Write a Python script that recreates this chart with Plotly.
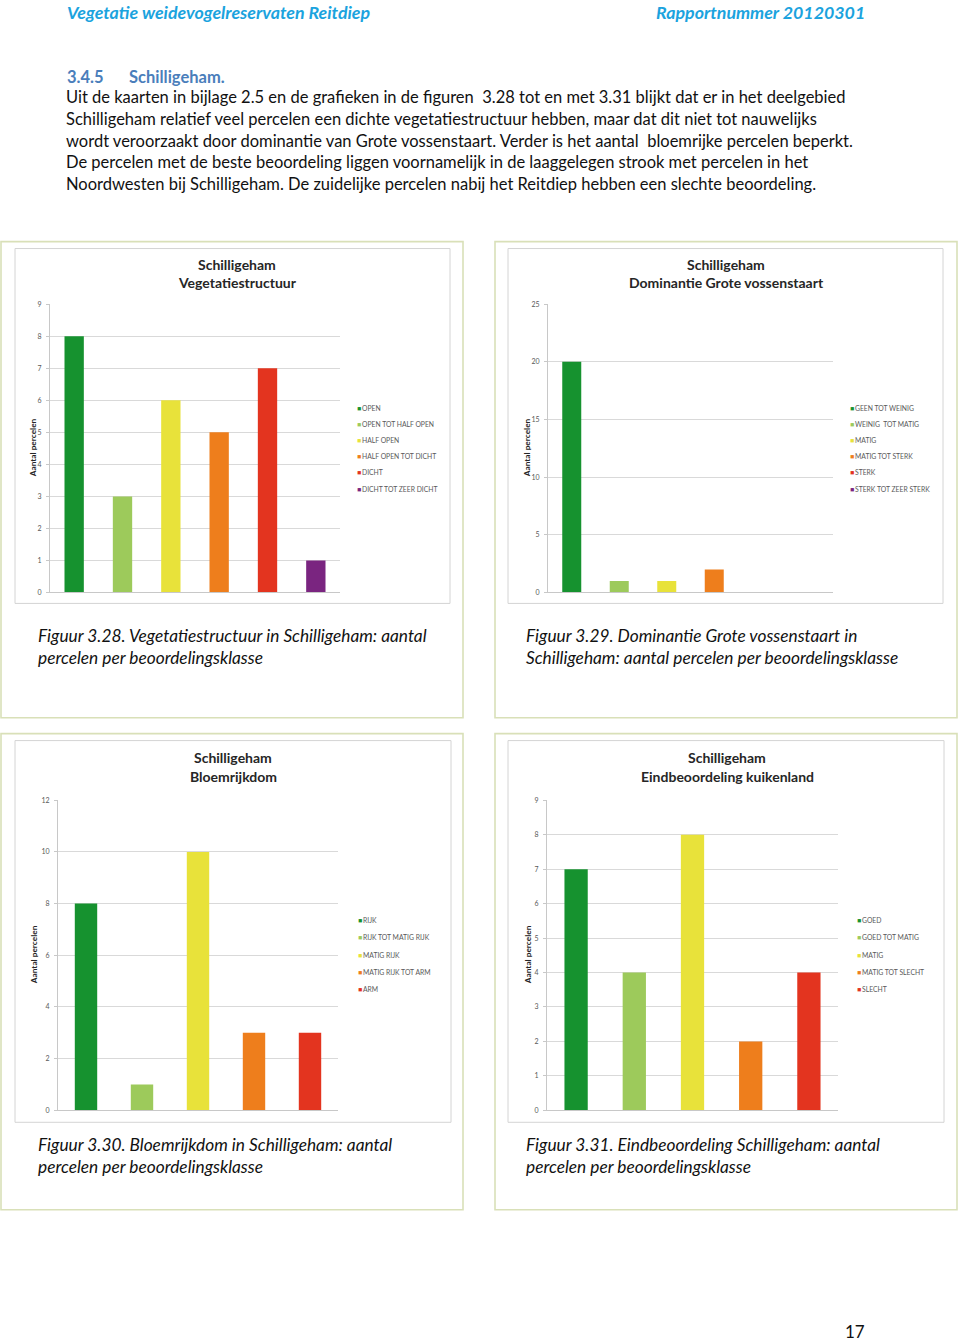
import plotly.graph_objects as go

# ---------------- data ----------------
veg_cats = ["OPEN", "OPEN TOT HALF OPEN", "HALF OPEN", "HALF OPEN TOT DICHT", "DICHT", "DICHT TOT ZEER DICHT"]
veg_vals = [8, 3, 6, 5, 7, 1]

dom_cats = ["GEEN TOT WEINIG", "WEINIG  TOT MATIG", "MATIG", "MATIG TOT STERK", "STERK", "STERK TOT ZEER STERK"]
dom_vals = [20, 1, 1, 2, 0, 0]

bloem_cats = ["RIJK", "RIJK TOT MATIG RIJK", "MATIG RIJK", "MATIG RIJK TOT ARM", "ARM"]
bloem_vals = [8, 1, 10, 3, 3]

eind_cats = ["GOED", "GOED TOT MATIG", "MATIG", "MATIG TOT SLECHT", "SLECHT"]
eind_vals = [7, 4, 8, 2, 4]

class_colors = ["#16922f", "#9dca5b", "#e8e23a", "#ee7e1c", "#e3341f", "#7a2580"]

chart_titles = [
    ["Schilligeham", "Vegetatiestructuur"],
    ["Schilligeham", "Dominantie Grote vossenstaart"],
    ["Schilligeham", "Bloemrijkdom"],
    ["Schilligeham", "Eindbeoordeling kuikenland"],
]
captions = [
    ["Figuur 3.28. Vegetatiestructuur in Schilligeham: aantal", "percelen per beoordelingsklasse"],
    ["Figuur 3.29. Dominantie Grote vossenstaart in", "Schilligeham: aantal percelen per beoordelingsklasse"],
    ["Figuur 3.30. Bloemrijkdom in Schilligeham: aantal", "percelen per beoordelingsklasse"],
    ["Figuur 3.31. Eindbeoordeling Schilligeham: aantal", "percelen per beoordelingsklasse"],
]
y_title = "Aantal percelen"

header_left = "Vegetatie weidevogelreservaten Reitdiep"
header_right = "Rapportnummer 20120301"
section_no = "3.4.5"
section_title = "Schilligeham."
body_lines = [
    "Uit de kaarten in bijlage 2.5 en de grafieken in de figuren  3.28 tot en met 3.31 blijkt dat er in het deelgebied",
    "Schilligeham relatief veel percelen een dichte vegetatiestructuur hebben, maar dat dit niet tot nauwelijks",
    "wordt veroorzaakt door dominantie van Grote vossenstaart. Verder is het aantal  bloemrijke percelen beperkt.",
    "De percelen met de beste beoordeling liggen voornamelijk in de laaggelegen strook met percelen in het",
    "Noordwesten bij Schilligeham. De zuidelijke percelen nabij het Reitdiep hebben een slechte beoordeling.",
]
page_number = "17"

# ---------------- layout helpers ----------------
W, H = 960, 1341
FONT = "Lato"


def fx(x):
    return x / W


def fy(y):
    return 1 - y / H


panels = [
    dict(cats=veg_cats, vals=veg_vals, ymax=9, dtick=1,
         outer=(1, 238, 463, 717), inner=(15, 245, 450, 602),
         plot=(50, 301, 340, 591), title_x=237, title_y=(261, 279),
         ytitle_x=33, leg_x=355, leg_y0=405, leg_dy=16.3, cap_x=36, cap_y=(634, 656)),
    dict(cats=dom_cats, vals=dom_vals, ymax=25, dtick=5,
         outer=(495, 238, 957, 717), inner=(508, 245, 943, 602),
         plot=(548, 301, 833, 591), title_x=726, title_y=(261, 279),
         ytitle_x=527, leg_x=848, leg_y0=405, leg_dy=16.3, cap_x=524, cap_y=(634, 656)),
    dict(cats=bloem_cats, vals=bloem_vals, ymax=12, dtick=2,
         outer=(1, 733, 463, 1212), inner=(15, 740, 451, 1124),
         plot=(58, 800, 338, 1112), title_x=233, title_y=(757, 776),
         ytitle_x=34, leg_x=356, leg_y0=920, leg_dy=17.6, cap_x=36, cap_y=(1146, 1168)),
    dict(cats=eind_cats, vals=eind_vals, ymax=9, dtick=1,
         outer=(495, 733, 957, 1212), inner=(508, 740, 944, 1124),
         plot=(547, 800, 838, 1112), title_x=727, title_y=(757, 776),
         ytitle_x=528, leg_x=855, leg_y0=920, leg_dy=17.6, cap_x=524, cap_y=(1146, 1168)),
]

fig = go.Figure()
shapes = []
annotations = []
layout_axes = {}

for i, p in enumerate(panels):
    n = i + 1
    xs = "" if n == 1 else str(n)
    x0, y0, x1, y1 = p["plot"]
    cols = class_colors[:len(p["cats"])]

    fig.add_trace(go.Bar(
        x=p["cats"], y=p["vals"], marker=dict(color=cols, line=dict(width=0)),
        xaxis="x" + xs, yaxis="y" + xs, showlegend=False, hoverinfo="x+y",
    ))

    layout_axes["xaxis" + xs] = dict(
        domain=[fx(x0), fx(x1)], anchor="y" + xs, type="category",
        showticklabels=False, ticks="", showgrid=False, zeroline=False,
        showline=True, linecolor="#c8c8c8", linewidth=1,
    )
    layout_axes["yaxis" + xs] = dict(
        domain=[fy(y1), fy(y0)], anchor="x" + xs, range=[0, p["ymax"]], dtick=p["dtick"],
        showgrid=True, gridcolor="#d9d9d9", gridwidth=1, zeroline=False,
        showline=True, linecolor="#c8c8c8", linewidth=1,
        ticks="outside", ticklen=3, tickcolor="#c8c8c8",
        tickfont=dict(family=FONT, size=7, color="#595959"), ticklabelstandoff=3,
    )

    ox0, oy0, ox1, oy1 = p["outer"]
    shapes.append(dict(type="rect", xref="paper", yref="paper",
                       x0=fx(ox0), x1=fx(ox1), y0=fy(oy1), y1=fy(oy0),
                       line=dict(color="#d9e0b8", width=1.6), fillcolor="rgba(0,0,0,0)", layer="below"))
    ix0, iy0, ix1, iy1 = p["inner"]
    shapes.append(dict(type="rect", xref="paper", yref="paper",
                       x0=fx(ix0), x1=fx(ix1), y0=fy(iy1), y1=fy(iy0),
                       line=dict(color="#d4d4d4", width=1), fillcolor="rgba(0,0,0,0)", layer="below"))

    # chart title
    for line, ty in zip(chart_titles[i], p["title_y"]):
        annotations.append(dict(text="<b>%s</b>" % line, x=fx(p["title_x"]), y=fy(ty),
                                xref="paper", yref="paper", xanchor="center", yanchor="middle",
                                showarrow=False, font=dict(family=FONT, size=14, color="#262626")))
    # y axis title
    annotations.append(dict(text="<b>%s</b>" % y_title, x=fx(p["ytitle_x"]), y=fy((y0 + y1) / 2),
                            xref="paper", yref="paper", xanchor="center", yanchor="middle",
                            textangle=-90, showarrow=False,
                            font=dict(family=FONT, size=8.3, color="#262626")))
    # legend
    for k, (cat, col) in enumerate(zip(p["cats"], cols)):
        annotations.append(dict(
            text="<span style='color:%s'>■</span>&#8201;<span>%s</span>" % (col, cat),
            x=fx(p["leg_x"]), y=fy(p["leg_y0"] + k * p["leg_dy"]),
            xref="paper", yref="paper", xanchor="left", yanchor="middle", showarrow=False,
            font=dict(family=FONT, size=6.8, color="#595959")))
    # caption
    for line, cy in zip(captions[i], p["cap_y"]):
        annotations.append(dict(text="<i>%s</i>" % line, x=fx(p["cap_x"]), y=fy(cy),
                                xref="paper", yref="paper", xanchor="left", yanchor="middle",
                                showarrow=False, font=dict(family=FONT, size=17.3, color="#111111")))

# header
annotations.append(dict(text="<b><i>%s</i></b>" % header_left, x=fx(65), y=fy(7), xref="paper", yref="paper",
                        xanchor="left", yanchor="middle", showarrow=False,
                        font=dict(family=FONT, size=17.8, color="#1ba3de")))
annotations.append(dict(text="<b><i>%s</i></b>" % header_right, x=fx(867), y=fy(7), xref="paper", yref="paper",
                        xanchor="right", yanchor="middle", showarrow=False,
                        font=dict(family=FONT, size=17.8, color="#1ba3de")))
annotations.append(dict(text="<b>%s</b>" % section_no, x=fx(65), y=fy(72), xref="paper", yref="paper",
                        xanchor="left", yanchor="middle", showarrow=False,
                        font=dict(family=FONT, size=16.5, color="#4a7ebb")))
annotations.append(dict(text="<b>%s</b>" % section_title, x=fx(127), y=fy(72), xref="paper", yref="paper",
                        xanchor="left", yanchor="middle", showarrow=False,
                        font=dict(family=FONT, size=16.5, color="#4a7ebb")))
for k, line in enumerate(body_lines):
    annotations.append(dict(text=line, x=fx(64), y=fy(93 + k * 21.7), xref="paper", yref="paper",
                            xanchor="left", yanchor="middle", showarrow=False,
                            font=dict(family=FONT, size=16.5, color="#111111")))
annotations.append(dict(text=page_number, x=fx(867), y=fy(1334), xref="paper", yref="paper",
                        xanchor="right", yanchor="middle", showarrow=False,
                        font=dict(family=FONT, size=17, color="#111111")))

fig.update_layout(
    width=W, height=H, margin=dict(l=0, r=0, t=0, b=0),
    paper_bgcolor="white", plot_bgcolor="white",
    bargap=0.6, showlegend=False,
    shapes=shapes, annotations=annotations,
    font=dict(family=FONT),
    **layout_axes,
)

fig.write_html("out.html")
